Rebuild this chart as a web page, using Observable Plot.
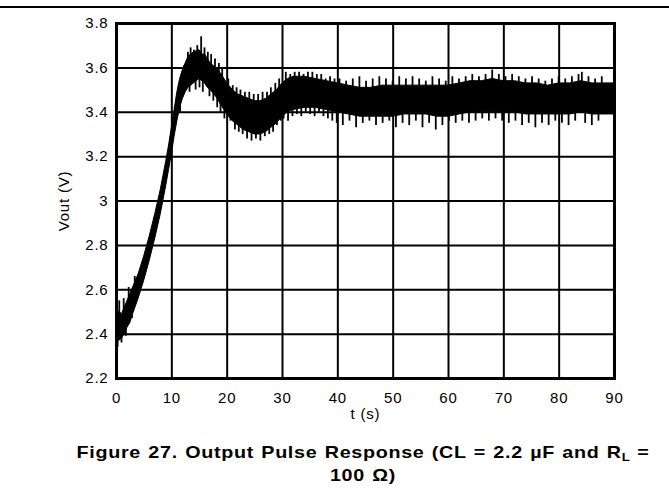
<!DOCTYPE html>
<html>
<head>
<meta charset="utf-8">
<script src="https://cdn.jsdelivr.net/npm/d3@7"></script>
<script src="https://cdn.jsdelivr.net/npm/@observablehq/plot@0.6"></script>
<style>
  html, body { margin: 0; padding: 0; background: #fff; }
  body { width: 669px; height: 500px; position: relative; overflow: hidden; font-family: "Liberation Sans", Arial, Helvetica, sans-serif; }
  #topline { position: absolute; left: 0; top: 6px; width: 669px; height: 2px; background: #000; z-index: 5; }
  #chart { position: absolute; left: 0; top: 0; z-index: 1; }
  #caption { position: absolute; left: 0; top: 441px; width: 726px; text-align: center; font-weight: bold; font-size: 17px; letter-spacing: 0.6px; word-spacing: 1px; line-height: 23px; color: #000; z-index: 5; transform: scaleX(1.16); transform-origin: 363px 0; }
  #caption sub { font-size: 11.5px; vertical-align: -3px; line-height: 0; letter-spacing: 0; }
</style>
</head>
<body>
<div id="topline"></div>
<div id="chart"></div>
<div id="caption">Figure 27. Output Pulse Response (CL = 2.2 µF and R<sub>L</sub> =<br>100 Ω)</div>
<script>
// Envelope of the noisy trace (time in s, lower and upper edge in V)
const tEnv = [0,0.5,1,1.5,2,2.5,3,4,5,6,7,8,9,9.5,10,10.5,11,11.5,12,12.5,13,14,15,15.5,16,16.5,17,18,19,20,21,22,23,24,25,26,27,28,29,30,31,32,34,36,38,40,42,44,46,48,50,52,54,56,58,60,62,64,66,68,70,72,74,76,78,80,82,84,86,88,90];
const vLow = [2.37,2.37,2.38,2.40,2.43,2.45,2.49,2.56,2.64,2.73,2.83,2.94,3.07,3.14,3.21,3.29,3.36,3.42,3.46,3.49,3.51,3.53,3.55,3.54,3.53,3.51,3.50,3.47,3.43,3.39,3.36,3.34,3.32,3.31,3.30,3.30,3.31,3.33,3.35,3.38,3.40,3.41,3.42,3.42,3.41,3.40,3.39,3.38,3.38,3.38,3.38,3.39,3.39,3.39,3.38,3.38,3.39,3.40,3.40,3.40,3.40,3.40,3.39,3.39,3.39,3.39,3.39,3.40,3.39,3.39,3.39];
const vHigh = [2.49,2.50,2.49,2.52,2.55,2.58,2.61,2.67,2.75,2.84,2.94,3.05,3.18,3.25,3.33,3.41,3.49,3.55,3.59,3.62,3.65,3.67,3.68,3.66,3.66,3.64,3.62,3.60,3.57,3.53,3.50,3.48,3.47,3.46,3.45,3.45,3.46,3.48,3.50,3.53,3.55,3.56,3.56,3.55,3.54,3.53,3.52,3.51,3.51,3.52,3.52,3.52,3.52,3.52,3.52,3.52,3.53,3.54,3.54,3.55,3.54,3.54,3.53,3.53,3.52,3.53,3.53,3.54,3.53,3.53,3.53];

// Individual noise spikes: time (s), base inside the band (V), tip (V)
const spikeT = [0.2,0.5,0.9,1.3,1.7,2.2,2.8,3.3,11.5,12.2,12.9,13.2,13.4,14.0,14.3,14.6,15.0,15.3,15.6,15.9,16.5,16.8,17.1,17.5,17.8,18.2,18.5,18.8,19.1,19.5,20.2,20.6,21.0,21.4,21.7,22.1,22.4,22.8,23.2,23.6,24.0,24.4,24.8,25.2,25.6,26.0,26.4,26.8,27.2,27.6,27.9,28.3,28.7,29.0,29.4,29.7,30.2,30.6,31.0,31.4,31.8,32.2,32.6,33.0,33.4,33.8,34.2,34.6,35.0,35.4,35.8,36.2,36.6,37.0,37.4,37.8,38.2,38.6,39.0,39.4,39.8,40.3,40.9,41.5,42.1,42.7,43.3,43.9,44.5,45.1,45.7,46.3,46.9,47.5,48.1,48.7,49.3,49.9,50.5,51.1,51.7,52.3,52.9,53.5,54.1,54.7,55.3,55.9,56.5,57.1,57.7,58.3,58.9,59.5,60.1,60.7,61.3,61.9,62.5,63.1,63.7,64.3,64.9,65.5,66.1,66.7,67.3,67.9,68.5,69.1,69.7,70.3,70.9,71.5,72.1,72.7,73.3,73.9,74.5,75.1,75.7,76.3,76.9,77.5,78.1,78.7,79.3,79.9,80.5,81.1,81.7,82.3,82.9,83.5,84.1,84.7,85.3,85.9,86.5,87.1,87.7,88.3,88.9,89.5];
const spikeBase = [2.43,2.43,2.43,2.46,2.46,2.50,2.55,2.58,3.48,3.52,3.58,3.58,3.60,3.60,3.60,3.62,3.62,3.62,3.60,3.60,3.58,3.56,3.56,3.55,3.54,3.53,3.52,3.50,3.50,3.47,3.46,3.44,3.43,3.42,3.42,3.41,3.41,3.40,3.40,3.39,3.39,3.38,3.38,3.38,3.38,3.38,3.38,3.38,3.39,3.40,3.40,3.41,3.42,3.43,3.44,3.45,3.46,3.47,3.47,3.48,3.48,3.49,3.49,3.49,3.49,3.49,3.49,3.49,3.49,3.49,3.48,3.48,3.48,3.48,3.47,3.47,3.47,3.47,3.46,3.46,3.46,3.46,3.46,3.46,3.46,3.46,3.46,3.46,3.46,3.46,3.46,3.46,3.46,3.46,3.46,3.46,3.46,3.46,3.46,3.46,3.46,3.46,3.46,3.46,3.46,3.46,3.46,3.46,3.46,3.46,3.46,3.46,3.46,3.46,3.46,3.46,3.46,3.46,3.46,3.46,3.46,3.46,3.46,3.46,3.46,3.46,3.46,3.46,3.46,3.46,3.46,3.46,3.46,3.46,3.46,3.46,3.46,3.46,3.46,3.46,3.46,3.46,3.46,3.46,3.46,3.46,3.46,3.46,3.46,3.46,3.46,3.46,3.46,3.46,3.46,3.46,3.46,3.46,3.46,3.46,3.46];
const spikeTip = [2.34,2.55,2.36,2.56,2.39,2.61,2.47,2.66,3.40,3.61,3.67,3.49,3.69,3.68,3.50,3.70,3.51,3.74,3.49,3.69,3.67,3.47,3.66,3.45,3.64,3.42,3.62,3.40,3.60,3.37,3.55,3.36,3.52,3.32,3.51,3.31,3.50,3.30,3.49,3.28,3.49,3.27,3.48,3.28,3.48,3.27,3.49,3.29,3.49,3.30,3.51,3.31,3.53,3.34,3.55,3.36,3.37,3.58,3.36,3.57,3.38,3.58,3.39,3.58,3.38,3.57,3.40,3.58,3.39,3.58,3.38,3.57,3.40,3.57,3.38,3.55,3.37,3.56,3.36,3.55,3.35,3.55,3.34,3.54,3.36,3.55,3.33,3.56,3.35,3.54,3.36,3.55,3.34,3.56,3.35,3.55,3.36,3.54,3.33,3.56,3.35,3.55,3.34,3.56,3.36,3.55,3.33,3.54,3.35,3.56,3.32,3.55,3.34,3.54,3.36,3.56,3.35,3.55,3.36,3.56,3.35,3.57,3.36,3.56,3.37,3.57,3.36,3.59,3.37,3.57,3.36,3.56,3.35,3.57,3.36,3.56,3.34,3.55,3.35,3.56,3.33,3.55,3.35,3.54,3.34,3.55,3.36,3.56,3.35,3.55,3.34,3.56,3.36,3.57,3.58,3.35,3.56,3.34,3.55,3.36,3.56,3.34,3.55,3.35];

const xTicks = [0,10,20,30,40,50,60,70,80,90];
const yTicks = [2.2,2.4,2.6,2.8,3,3.2,3.4,3.6,3.8];

const env = tEnv.map((t, i) => ({t, lo: vLow[i], hi: vHigh[i]}));
const spikes = spikeT.map((t, i) => ({t, a: spikeBase[i], b: spikeTip[i]}));

const chart = Plot.plot({
  width: 669,
  height: 425,
  marginLeft: 116,
  marginRight: 55,
  marginTop: 23,
  marginBottom: 47,
  style: {fontFamily: '"Liberation Sans", Arial, Helvetica, sans-serif', fontSize: "15px", letterSpacing: "0.8px", color: "#000", background: "transparent", overflow: "visible"},
  x: {domain: [0, 90]},
  y: {domain: [2.2, 3.8]},
  marks: [
    Plot.gridX(xTicks, {stroke: "#000", strokeOpacity: 1, strokeWidth: 2}),
    Plot.gridY(yTicks, {stroke: "#000", strokeOpacity: 1, strokeWidth: 2}),
    Plot.areaY(env, {x: "t", y1: "lo", y2: "hi", fill: "#000", stroke: "#000", strokeWidth: 1, curve: "linear"}),
    Plot.ruleX(spikes, {x: "t", y1: "a", y2: "b", stroke: "#000", strokeWidth: 1.8}),
    Plot.frame({stroke: "#000", strokeWidth: 3}),
    Plot.axisX(xTicks, {tickSize: 0, tickPadding: 14, label: "t (s)", labelAnchor: "center", labelArrow: "none", labelOffset: 40, fontSize: 15}),
    Plot.axisY(yTicks, {tickSize: 0, tickPadding: 8, tickFormat: d => String(d), label: "Vout (V)", labelAnchor: "center", labelArrow: "none", labelOffset: 58, fontSize: 15})
  ]
});
document.getElementById("chart").appendChild(chart);
</script>
</body>
</html>
